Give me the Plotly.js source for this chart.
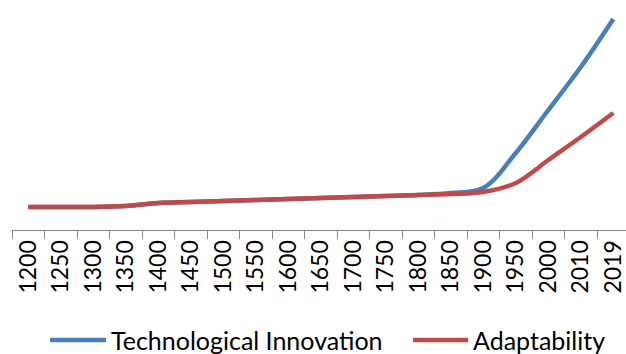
<!DOCTYPE html>
<html>
<head>
<meta charset="utf-8">
<script src="https://cdn.plot.ly/plotly-3.0.1.min.js"></script>
<style>
  html, body { margin: 0; padding: 0; background: #ffffff; }
  #chart { width: 626px; height: 354px; }
</style>
</head>
<body>
<div id="chart"></div>
<script>
// Period labels along the x axis
const years = ['1200', '1250', '1300', '1350', '1400', '1450', '1500', '1550', '1600',
               '1650', '1700', '1750', '1800', '1850', '1900', '1950', '2000', '2010', '2019'];

// Series values (relative index)
const techInnovation = [23, 23, 23, 24, 27, 28, 29, 30, 31, 32, 33, 34, 35, 37, 42, 77, 120, 163, 211];
const adaptability   = [23, 23, 23, 24, 27, 28, 29, 30, 31, 32, 33, 34, 35, 36, 38, 47, 70, 93, 117];

const seriesNames  = ['Technological Innovation', 'Adaptability'];
const seriesColors = ['#4A7EBB', '#BE4B48'];

const FONT = 'Lato, "DejaVu Sans", sans-serif';

const traces = [techInnovation, adaptability].map((vals, i) => ({
  type: 'scatter',
  mode: 'lines',
  x: years,
  y: vals,
  name: seriesNames[i],
  line: { color: seriesColors[i], width: 4.5, shape: 'spline', smoothing: 1 },
  hoverinfo: 'x+y+name'
}));

// Legend drawn below the axis: a line sample followed by the series name
const legendX = [[0.062, 0.153], [0.653, 0.743]];
const shapes = legendX.map((xs, i) => ({
  type: 'line', xref: 'paper', yref: 'paper',
  x0: xs[0], x1: xs[1], y0: -0.5, y1: -0.5,
  line: { color: seriesColors[i], width: 4.5 }
}));
const annotations = legendX.map((xs, i) => ({
  xref: 'paper', yref: 'paper',
  x: xs[1] + 0.005, y: -0.5,
  xanchor: 'left', yanchor: 'middle',
  text: seriesNames[i], showarrow: false,
  font: { family: FONT, size: 25, color: '#000000' }
}));

const layout = {
  width: 626,
  height: 354,
  margin: { l: 12, r: 0, t: 10, b: 124 },
  paper_bgcolor: '#ffffff',
  plot_bgcolor: '#ffffff',
  showlegend: false,
  xaxis: {
    type: 'category',
    range: [-0.5, 18.39],
    showline: true,
    linecolor: '#868686',
    linewidth: 1,
    ticks: 'outside',
    tickson: 'boundaries',
    ticklen: 8,
    tickcolor: '#868686',
    tickwidth: 1,
    tickangle: -90,
    tickfont: { family: FONT, size: 23, color: '#000000' },
    showgrid: false,
    zeroline: false,
    fixedrange: true
  },
  yaxis: {
    range: [0, 220],
    visible: false,
    fixedrange: true
  },
  shapes: shapes,
  annotations: annotations
};

Plotly.newPlot('chart', traces, layout, { displayModeBar: false, staticPlot: true });
</script>
</body>
</html>
